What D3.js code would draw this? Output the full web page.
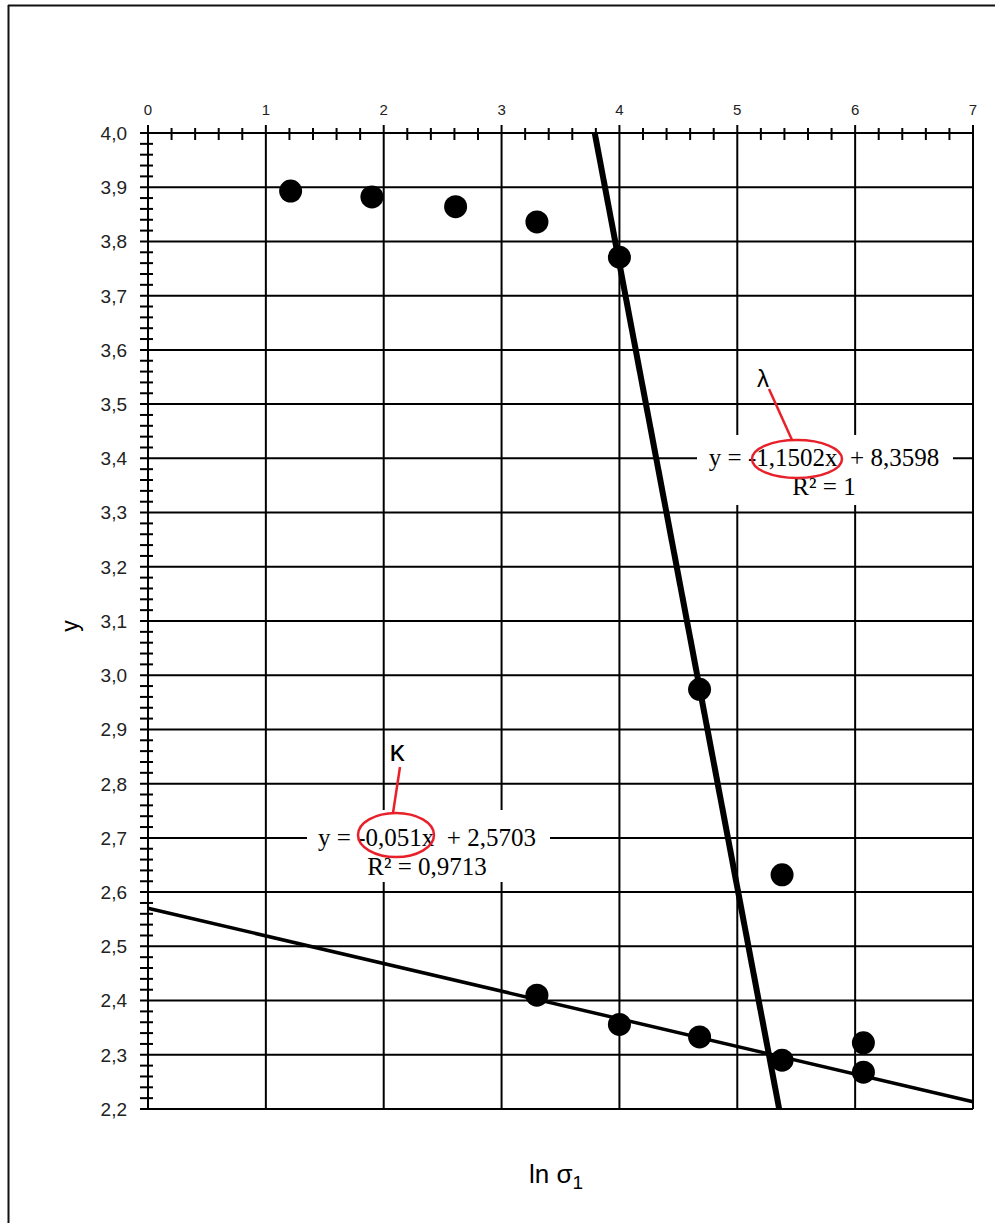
<!DOCTYPE html>
<html>
<head>
<meta charset="utf-8">
<script src="https://cdn.jsdelivr.net/npm/d3@7"></script>
<style>
  html, body { margin: 0; padding: 0; background: #fff; }
  svg { display: block; }
</style>
</head>
<body>
<svg id="chart" width="995" height="1223"></svg>
<script>
// data
const upperX = [1.21, 1.90, 2.61, 3.30, 4.00];
const upperY = [3.893, 3.882, 3.864, 3.836, 3.771];
const midX = [4.68, 5.38];
const midY = [2.974, 2.632];
const lowerX = [3.30, 4.00, 4.68, 5.38, 6.07, 6.07];
const lowerY = [2.410, 2.356, 2.333, 2.290, 2.322, 2.268];

const xTicks = [0, 1, 2, 3, 4, 5, 6, 7];
const yTicks = d3.range(22, 41).map(v => v / 10);

// trend lines  y = a*x + b
const lambdaFit = { a: -1.1502, b: 8.3598 };
const kappaFit = { a: -0.051, b: 2.5703 };

const svg = d3.select("#chart");

const x = d3.scaleLinear().domain([0, 7]).range([148, 973]);
const y = d3.scaleLinear().domain([2.2, 4.0]).range([1109, 133]);

// outer frame (only top + left visible)
svg.append("line").attr("x1", 8).attr("x2", 995).attr("y1", 5.5).attr("y2", 5.5)
  .attr("stroke", "#111").attr("stroke-width", 2);
svg.append("line").attr("x1", 8.5).attr("x2", 8.5).attr("y1", 5).attr("y2", 1223)
  .attr("stroke", "#111").attr("stroke-width", 2);

const grid = svg.append("g").attr("stroke", "#000").attr("stroke-width", 2);

// horizontal grid lines
grid.selectAll(".hg").data(yTicks).enter().append("line")
  .attr("x1", 140).attr("x2", x(7))
  .attr("y1", d => y(d)).attr("y2", d => y(d));

// vertical grid lines (x = 0 is the axis)
grid.selectAll(".vg").data(xTicks).enter().append("line")
  .attr("x1", d => x(d)).attr("x2", d => x(d))
  .attr("y1", 125).attr("y2", y(2.2));

// top axis minor ticks
const xMinor = d3.range(0, 35).map(i => i / 5).filter(v => Math.abs(v - Math.round(v)) > 1e-6);
grid.selectAll(".xm").data(xMinor).enter().append("line")
  .attr("x1", d => x(d)).attr("x2", d => x(d))
  .attr("y1", y(4) - 5).attr("y2", y(4) + 7);

// left axis minor ticks
const yMinor = d3.range(110, 200).map(i => i / 50).filter(v => Math.abs(v * 10 - Math.round(v * 10)) > 1e-6);
grid.selectAll(".ym").data(yMinor).enter().append("line")
  .attr("x1", 140).attr("x2", 153)
  .attr("y1", d => y(d)).attr("y2", d => y(d));

// tick labels
svg.append("g").selectAll("text").data(xTicks).enter().append("text")
  .attr("x", d => x(d)).attr("y", 115)
  .attr("text-anchor", "middle")
  .style("font-family", "Arial, 'Liberation Sans', sans-serif")
  .style("font-size", "15px")
  .attr("fill", "#222")
  .text(d => d);

const fmt = d3.format(".1f");
svg.append("g").selectAll("text").data(yTicks).enter().append("text")
  .attr("x", 127).attr("y", d => y(d))
  .attr("dy", "0.36em")
  .attr("text-anchor", "end")
  .style("font-family", "Arial, 'Liberation Sans', sans-serif")
  .style("font-size", "19px")
  .attr("fill", "#222")
  .text(d => fmt(d).replace(".", ","));

// axis titles
svg.append("text")
  .attr("transform", "translate(70,626) rotate(-90)")
  .attr("text-anchor", "middle").attr("dy", "0.35em")
  .style("font-family", "Arial, 'Liberation Sans', sans-serif")
  .style("font-size", "23px")
  .text("y");

const xt = svg.append("text")
  .attr("x", 556).attr("y", 1183)
  .attr("text-anchor", "middle")
  .style("font-family", "Arial, 'Liberation Sans', sans-serif")
  .style("font-size", "26px");
xt.append("tspan").text("ln σ");
xt.append("tspan").attr("dy", 6).style("font-size", "19px").text("1");

// trend lines
const line = d3.line().x(d => x(d[0])).y(d => y(d[1]));
const lamX0 = (4.0 - lambdaFit.b) / lambdaFit.a;
const lamX1 = (2.2 - lambdaFit.b) / lambdaFit.a;
svg.append("path")
  .attr("d", line([[lamX0, 4.0], [lamX1, 2.2]]))
  .attr("stroke", "#000").attr("stroke-width", 6).attr("fill", "none");
svg.append("path")
  .attr("d", line([[0, kappaFit.b], [7, kappaFit.a * 7 + kappaFit.b]]))
  .attr("stroke", "#000").attr("stroke-width", 3.5).attr("fill", "none");

// points
const pts = d3.zip(upperX, upperY)
  .concat(d3.zip(midX, midY))
  .concat(d3.zip(lowerX, lowerY));
svg.append("g").selectAll("circle").data(pts).enter().append("circle")
  .attr("cx", d => x(d[0])).attr("cy", d => y(d[1]))
  .attr("r", 11.5).attr("fill", "#000");

// equation labels
function label(cx, cy, box, eq, r2, ell, lead, sym) {
  const g = svg.append("g");
  g.append("rect")
    .attr("x", box[0]).attr("y", box[1])
    .attr("width", box[2]).attr("height", box[3])
    .attr("fill", "#fff");
  g.append("text")
    .attr("x", cx).attr("y", cy).attr("dy", "0.32em")
    .attr("text-anchor", "middle")
    .style("font-family", "'Liberation Serif', 'Times New Roman', serif")
    .style("font-size", "25px")
    .style("white-space", "pre")
    .text(eq);
  g.append("text")
    .attr("x", cx).attr("y", cy + 29).attr("dy", "0.32em")
    .attr("text-anchor", "middle")
    .style("font-family", "'Liberation Serif', 'Times New Roman', serif")
    .style("font-size", "25px")
    .text(r2);
  g.append("ellipse")
    .attr("cx", ell[0]).attr("cy", ell[1]).attr("rx", ell[2]).attr("ry", ell[3])
    .attr("fill", "none").attr("stroke", "#e8202a").attr("stroke-width", 2.5);
  g.append("line")
    .attr("x1", lead[0]).attr("y1", lead[1]).attr("x2", lead[2]).attr("y2", lead[3])
    .attr("stroke", "#e8202a").attr("stroke-width", 2.5);
  g.append("text")
    .attr("x", sym[0]).attr("y", sym[1])
    .attr("text-anchor", "middle")
    .style("font-family", "Arial, 'Liberation Sans', sans-serif")
    .style("font-size", sym[3])
    .text(sym[2]);
}

label(824, y(3.4), [697, 435, 256, 70],
  "y = -1,1502x  + 8,3598", "R² = 1",
  [797, 459, 45, 19], [769, 389, 792, 440], [763, 387, "λ", "24px"]);

label(427, y(2.7), [307, 810, 243, 72],
  "y = -0,051x  + 2,5703", "R² = 0,9713",
  [396, 835, 38, 22], [400, 767, 393, 813], [397, 761, "κ", "30px"]);
</script>
</body>
</html>
